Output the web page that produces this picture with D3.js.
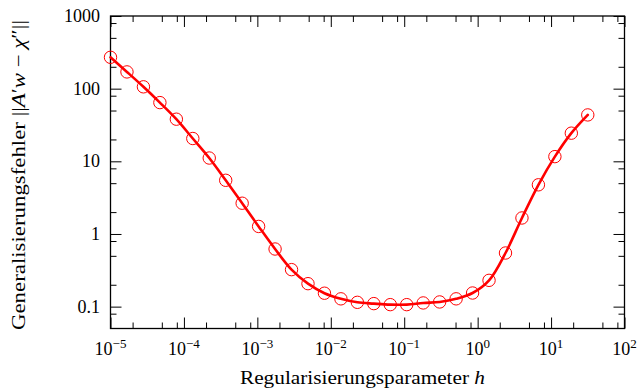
<!DOCTYPE html>
<html>
<head>
<meta charset="utf-8">
<script src="https://cdn.jsdelivr.net/npm/d3@7"></script>
<style>
  html, body { margin: 0; padding: 0; background: #fff; }
  svg { display: block; }
  text { font-family: "Liberation Serif", "DejaVu Serif", serif; fill: #000; }
</style>
</head>
<body>
<svg id="chart" width="639" height="389"></svg>
<script>
// ---- data ----
const hValues = [1.000e-5, 1.676e-5, 2.808e-5, 4.705e-5, 7.885e-5, 1.321e-4, 2.212e-4, 3.707e-4,
  6.210e-4, 1.040e-3, 1.743e-3, 2.920e-3, 4.893e-3, 8.197e-3, 1.3735e-2, 2.301e-2, 3.855e-2,
  6.459e-2, 0.1082, 0.1814, 0.3039, 0.5092, 0.8532, 1.4295, 2.395, 4.013, 6.724, 11.27, 18.87, 31.62];
const errorValues = [270, 170, 106, 64.3, 38.0, 20.6, 11.1, 5.48, 2.65, 1.27, 0.621, 0.323, 0.207,
  0.153, 0.128, 0.1146, 0.110, 0.1065, 0.1065, 0.1124, 0.116, 0.128, 0.154, 0.230, 0.547,
  1.66, 4.75, 11.6, 24.4, 43.5];
const xMajorTicks = [1e-5, 1e-4, 1e-3, 1e-2, 1e-1, 1e0, 1e1, 1e2];
const xTickExponents = ["−5", "−4", "−3", "−2", "−1", "0", "1", "2"];
const yMajorTicks = [0.1, 1, 10, 100, 1000];
const yTickLabels = ["0.1", "1", "10", "100", "1000"];
const minorMultipliers = [2, 5, 8];
const xLabel = "Regularisierungsparameter";
const yLabel = "Generalisierungsfehler";

// ---- layout ----
const svg = d3.select("#chart");
const L = 110.5, R = 624.5, T = 16, B = 328.5;
const x = d3.scaleLog().domain([1e-5, 1e2]).range([L, R]);
const y = d3.scaleLog().domain([0.05, 1000]).range([B, T]);
const majorLen = 11, minorLen = 6;

function minors(domain) {
  const out = [];
  const lo = Math.floor(Math.log10(domain[0])) , hi = Math.ceil(Math.log10(domain[1]));
  for (let e = lo; e <= hi; e++) {
    minorMultipliers.forEach(m => {
      const v = m * Math.pow(10, e);
      if (v > domain[0] * 1.0001 && v < domain[1] * 0.9999) out.push(v);
    });
  }
  return out;
}
const xMinor = minors(x.domain());
const yMinor = minors(y.domain());

const g = svg.append("g");

function addAxis(axisFn, scale, vals, len, transform) {
  const a = axisFn(scale).tickValues(vals).tickSize(len).tickFormat("");
  const sel = g.append("g").attr("transform", transform).call(a);
  sel.select(".domain").remove();
  sel.selectAll(".tick line").attr("stroke", "#000").attr("stroke-width", 1);
}
addAxis(d3.axisTop, x, xMajorTicks, majorLen, `translate(0,${B})`);
addAxis(d3.axisTop, x, xMinor, minorLen, `translate(0,${B})`);
addAxis(d3.axisBottom, x, xMajorTicks, majorLen, `translate(0,${T})`);
addAxis(d3.axisBottom, x, xMinor, minorLen, `translate(0,${T})`);
addAxis(d3.axisRight, y, yMajorTicks, majorLen, `translate(${L},0)`);
addAxis(d3.axisRight, y, yMinor, minorLen, `translate(${L},0)`);
addAxis(d3.axisLeft, y, yMajorTicks, majorLen, `translate(${R},0)`);
addAxis(d3.axisLeft, y, yMinor, minorLen, `translate(${R},0)`);

g.append("rect").attr("x", L).attr("y", T).attr("width", R - L).attr("height", B - T)
  .attr("fill", "none").attr("stroke", "#000").attr("stroke-width", 1.3);

// x tick labels
const xl = g.append("g").selectAll("text").data(xMajorTicks).join("text")
  .attr("x", d => x(d)).attr("y", 355).attr("text-anchor", "middle")
  .style("font-size", "18px");
xl.append("tspan").text("10");
xl.append("tspan").attr("dy", -7).style("font-size", "13px").text((d, i) => xTickExponents[i]);

// y tick labels
g.append("g").selectAll("text").data(yMajorTicks).join("text")
  .attr("x", 100).attr("y", d => y(d)).attr("dy", "0.33em").attr("text-anchor", "end")
  .style("font-size", "18px").text((d, i) => yTickLabels[i]);

// curve
const line = d3.line().x((d, i) => x(hValues[i])).y(d => y(d)).curve(d3.curveCatmullRom.alpha(0.5));
g.append("path").datum(errorValues).attr("d", line)
  .attr("fill", "none").attr("stroke", "#ff0000").attr("stroke-width", 2.6)
  .attr("stroke-linejoin", "round").attr("stroke-linecap", "round");

// markers
g.append("g").selectAll("circle").data(errorValues).join("circle")
  .attr("cx", (d, i) => x(hValues[i])).attr("cy", d => y(d)).attr("r", 6.2)
  .attr("fill", "none").attr("stroke", "#ff0000").attr("stroke-width", 1);

// axis titles
const xt = svg.append("text").attr("x", 362.5).attr("y", 384).attr("text-anchor", "middle")
  .style("font-size", "19px").attr("textLength", 245).attr("lengthAdjust", "spacingAndGlyphs");
xt.append("tspan").text(xLabel + " ");
xt.append("tspan").style("font-style", "italic").text("h");

const yt = svg.append("text").attr("transform", "translate(25,175) rotate(-90)")
  .attr("text-anchor", "middle").style("font-size", "19px")
  .attr("textLength", 310).attr("lengthAdjust", "spacingAndGlyphs");
yt.append("tspan").text(yLabel + " ||");
yt.append("tspan").style("font-style", "italic").text("A");
yt.append("tspan").text("′");
yt.append("tspan").style("font-style", "italic").text("w");
yt.append("tspan").text(" − ");
yt.append("tspan").style("font-style", "italic").text("χ");
yt.append("tspan").text("″||");
</script>
</body>
</html>
